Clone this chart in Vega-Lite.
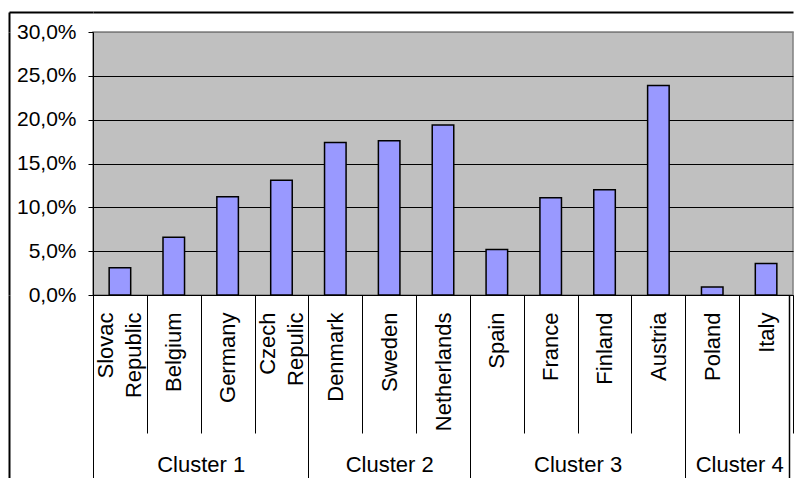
{
  "$schema": "https://vega.github.io/schema/vega-lite/v6.json",
  "autosize": "none",
  "width": 700,
  "height": 263,
  "padding": {"left": 93, "top": 32, "right": 2, "bottom": 183},
  "background": "white",
  "config": {
    "font": "Liberation Sans",
    "view": {"fill": "#C0C0C0", "stroke": "#808080", "strokeWidth": 1.5}
  },
  "data": {
    "values": [
      {"country": "Slovac Republic", "cluster": "Cluster 1", "share": 0.031},
      {"country": "Belgium", "cluster": "Cluster 1", "share": 0.066},
      {"country": "Germany", "cluster": "Cluster 1", "share": 0.112},
      {"country": "Czech Repulic", "cluster": "Cluster 1", "share": 0.131},
      {"country": "Denmark", "cluster": "Cluster 2", "share": 0.174},
      {"country": "Sweden", "cluster": "Cluster 2", "share": 0.176},
      {"country": "Netherlands", "cluster": "Cluster 2", "share": 0.194},
      {"country": "Spain", "cluster": "Cluster 3", "share": 0.052},
      {"country": "France", "cluster": "Cluster 3", "share": 0.111},
      {"country": "Finland", "cluster": "Cluster 3", "share": 0.120},
      {"country": "Austria", "cluster": "Cluster 3", "share": 0.239},
      {"country": "Poland", "cluster": "Cluster 4", "share": 0.009},
      {"country": "Italy", "cluster": "Cluster 4", "share": 0.036}
    ]
  },
  "layer": [
    {
      "mark": {"type": "bar", "fill": "#9999FF", "stroke": "#000000", "strokeWidth": 1.5, "width": {"band": 0.4}},
      "encoding": {
        "x": {
          "field": "country", "type": "nominal", "sort": null,
          "scale": {"paddingInner": 0, "paddingOuter": 0},
          "axis": {
            "title": null, "orient": "bottom",
            "domainColor": "#000000", "domainWidth": 1,
            "tickBand": "extent", "tickSize": 138, "tickColor": "#000000", "tickWidth": 1,
            "labelAngle": -90, "labelAlign": "right", "labelBaseline": "middle",
            "labelPadding": -121, "labelFontSize": 22, "labelColor": "#000000",
            "labelLineHeight": 28, "labelOverlap": false,
            "labelOffset": {"condition": {"test": "datum.value == 'Slovac Republic' || datum.value == 'Czech Repulic'", "value": -14}, "value": 0},
            "labelExpr": "datum.value ? split(datum.value, ' ') : ''"
          }
        },
        "y": {
          "field": "share", "type": "quantitative",
          "scale": {"domain": [0, 0.3], "nice": false},
          "axis": {
            "title": null,
            "values": [0, 0.05, 0.1, 0.15, 0.2, 0.25, 0.3],
            "labelExpr": "replace(format(datum.value, '.1%'), '.', ',')",
            "labelFontSize": 21, "labelColor": "#000000", "labelPadding": 12,
            "tickSize": 5, "tickColor": "#000000",
            "domainColor": "#000000",
            "grid": true,
            "gridColor": {"condition": {"test": "datum.value >= 0.29", "value": "#808080"}, "value": "#000000"},
            "gridWidth": 1, "gridOpacity": 1
          }
        }
      }
    },
    {
      "mark": {"type": "point", "opacity": 0},
      "encoding": {
        "x": {
          "field": "country", "type": "nominal", "sort": null,
          "axis": {
            "title": null, "orient": "bottom", "domain": false,
            "tickBand": "extent", "tickSize": 183, "tickWidth": 1,
            "tickColor": {"condition": {"test": "datum.extra || indexof(['Czech Repulic','Netherlands','Austria'], datum.value) >= 0", "value": "#000000"}, "value": "transparent"},
            "labelAngle": 0, "labelAlign": "center", "labelBaseline": "top",
            "labelPadding": -24, "labelFontSize": 22, "labelColor": "#000000", "labelOverlap": false,
            "labelOffset": {"condition": {"test": "datum.value == 'Sweden'", "value": 0}, "value": 26.92},
            "labelExpr": "datum.value == 'Belgium' ? 'Cluster 1' : datum.value == 'Sweden' ? 'Cluster 2' : datum.value == 'France' ? 'Cluster 3' : datum.value == 'Poland' ? 'Cluster 4' : ''"
          }
        }
      }
    },
    {
      "mark": {"type": "point", "opacity": 0},
      "encoding": {
        "x": {
          "field": "country", "type": "nominal", "sort": null,
          "axis": {
            "title": null, "orient": "bottom", "domain": false, "labels": false,
            "bandPosition": 0, "tickOffset": 50, "tickSize": 183, "tickWidth": 1.5,
            "tickColor": {"condition": {"test": "datum.value == 'Italy'", "value": "#000000"}, "value": "transparent"}
          }
        }
      }
    },
    {
      "mark": {"type": "point", "opacity": 0},
      "encoding": {
        "x": {
          "field": "country", "type": "nominal", "sort": null,
          "axis": {
            "title": null, "orient": "bottom", "domain": false, "labels": false,
            "bandPosition": 0, "tickOffset": -84, "tickSize": 183, "tickWidth": 2,
            "tickColor": {"condition": {"test": "datum.value == 'Slovac Republic'", "value": "#000000"}, "value": "transparent"}
          }
        }
      }
    },
    {
      "mark": {"type": "point", "opacity": 0},
      "encoding": {
        "x": {
          "field": "country", "type": "nominal", "sort": null,
          "axis": {
            "title": null, "orient": "top", "offset": 20, "labels": false,
            "domain": true, "domainColor": "#000000", "domainWidth": 2,
            "bandPosition": 0, "tickOffset": -84, "tickSize": -20, "tickWidth": 2,
            "tickColor": {"condition": {"test": "datum.value == 'Slovac Republic'", "value": "#000000"}, "value": "transparent"}
          }
        }
      }
    },
    {
      "mark": {"type": "point", "opacity": 0},
      "encoding": {
        "y": {
          "field": "share", "type": "quantitative",
          "axis": {
            "title": null, "orient": "left", "offset": 84, "labels": false, "grid": false,
            "domain": true, "domainColor": "#000000", "domainWidth": 2,
            "values": [0.3], "tickOffset": -20, "tickSize": -84, "tickWidth": 2, "tickColor": "#000000"
          }
        }
      }
    }
  ],
  "resolve": {"axis": {"x": "independent", "y": "independent"}}
}
